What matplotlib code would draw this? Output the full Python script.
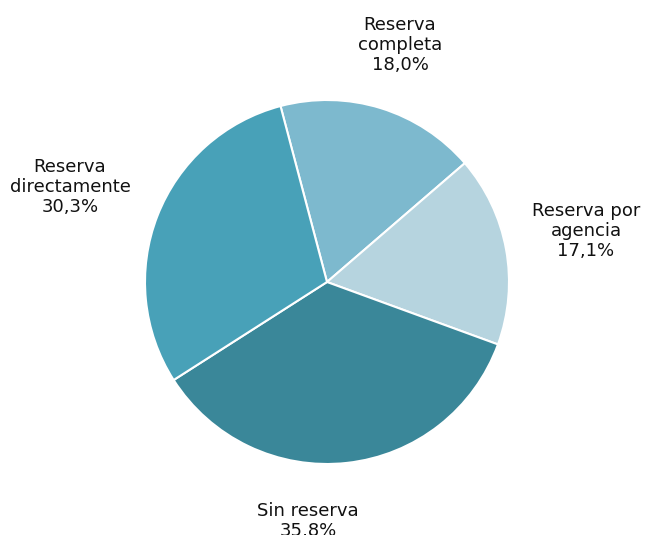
import matplotlib
matplotlib.use("Agg")
import matplotlib.pyplot as plt

categories = ["Reserva\ncompleta", "Reserva por\nagencia", "Sin reserva", "Reserva\ndirectamente"]
values = [18.0, 17.1, 35.8, 30.3]
colors = ["#7DB9CE", "#B6D4DF", "#3A8799", "#48A1B8"]
label_pos = [(400, 45), (586, 231), (308, 521), (70, 187)]  # pixel coords from top-left

W, H = 645, 535
fig = plt.figure(figsize=(W / 100, H / 100), dpi=100)
ax = fig.add_axes([0, 0, 1, 1])

ax.pie(values, colors=colors, startangle=104.8, counterclock=False,
       center=(327, H - 282), radius=182,
       wedgeprops=dict(edgecolor="white", linewidth=1.5))
ax.set_xlim(0, W)
ax.set_ylim(0, H)
ax.set_aspect("equal")
ax.axis("off")

for cat, v, (x, y) in zip(categories, values, label_pos):
    ax.text(x, H - y, f"{cat}\n{v:.1f}%".replace(".", ","), ha="center", va="center",
            fontsize=13, color="#111111", family="DejaVu Sans", linespacing=1.15)

fig.savefig("out.png", dpi=100)
